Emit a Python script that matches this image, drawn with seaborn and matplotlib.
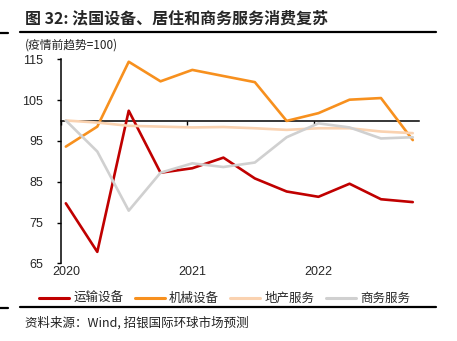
import matplotlib
matplotlib.use("Agg")
import matplotlib.pyplot as plt
from matplotlib.lines import Line2D
import seaborn as sns
import pandas as pd

quarters = ["2020-01-15", "2020-04-15", "2020-07-15", "2020-10-15",
            "2021-01-15", "2021-04-15", "2021-07-15", "2021-10-15",
            "2022-01-15", "2022-04-15", "2022-07-15", "2022-10-15"]
transport = [79.7, 67.8, 102.4, 87.2, 88.3, 90.9, 85.8, 82.6, 81.3, 84.5, 80.7, 80.0]
machinery = [93.6, 98.5, 114.4, 109.6, 112.4, 110.9, 109.4, 99.9, 101.8, 105.1, 105.5, 95.2]
realestate = [100.0, 99.5, 98.7, 98.5, 98.3, 98.4, 98.1, 97.7, 98.1, 98.1, 97.3, 96.9]
business = [100.0, 92.4, 77.9, 87.2, 89.5, 88.6, 89.7, 95.9, 99.3, 98.3, 95.6, 95.9]
series_names = ["运输设备", "机械设备", "地产服务", "商务服务"]
colors = ["#C00000", "#F7901E", "#FAD2B0", "#D0D0D0"]
year_labels = ["2020", "2021", "2022"]
year_ticks = ["2020-01-01", "2021-01-01", "2022-01-01"]
y_ticks = [65, 75, 85, 95, 105, 115]

sns.set_style("white")
plt.rcParams['font.family'] = ['Liberation Sans', 'Noto Sans CJK SC', 'DejaVu Sans']

dates = pd.to_datetime(quarters)
df = pd.concat([
    pd.DataFrame({"date": dates, "value": vals, "series": name})
    for name, vals in zip(series_names, [transport, machinery, realestate, business])
], ignore_index=True)

fig = plt.figure(figsize=(4.57, 3.41), dpi=100)
ax = fig.add_axes([61/457, (341-263.3)/341, 358/457, (263.3-59.3)/341])

sns.lineplot(data=df, x="date", y="value", hue="series", hue_order=series_names,
             palette=colors, linewidth=1.9, ax=ax, legend=True)

xmin = pd.Timestamp("2020-01-01")
xmax = pd.Timestamp("2022-11-02")
ax.set_xlim(xmin, xmax)
ax.set_ylim(65, 115)
ax.set_yticks(y_ticks)
ax.set_yticklabels([str(v) for v in y_ticks], fontsize=9)
ax.set_xticks([dates[0], dates[4], dates[8]])
ax.set_xticklabels(year_labels, fontsize=9)
ax.tick_params(axis='x', length=0, pad=2)
ax.tick_params(axis='y', length=3, width=1, direction='out', color='black', pad=10, left=True)
ax.set_xlabel("")
ax.set_ylabel("")
for s in ["top", "right", "bottom"]:
    ax.spines[s].set_visible(False)
ax.spines["left"].set_color("black")
ax.spines["left"].set_linewidth(1.1)

# axis line crossing at 100 with year ticks
ax2 = ax.twiny()
ax2.set_xlim(ax.get_xlim())
ax2.xaxis.set_ticks_position('bottom')
ax2.spines['bottom'].set_position(('data', 100))
ax2.spines['bottom'].set_color('black')
ax2.spines['bottom'].set_linewidth(1.1)
for s in ["top", "right", "left"]:
    ax2.spines[s].set_visible(False)
ax2.set_xticks(pd.to_datetime(year_ticks))
ax2.tick_params(axis='x', length=3, width=1, direction='out', color='black', labelbottom=False, labeltop=False)
ax2.set_zorder(ax.get_zorder() - 1)
ax.patch.set_visible(False)

handles, labels = ax.get_legend_handles_labels()
for h in handles:
    h.set_linewidth(2.2)
ax.legend(handles, labels, loc="upper center", bbox_to_anchor=(0.457, -0.085), ncol=4,
          frameon=False, handlelength=2.4, handletextpad=0.35, columnspacing=0.9,
          prop={'family': ['Noto Sans CJK SC'], 'size': 9})

fig.text(25/457, 1 - 18/341, "图 32: 法国设备、居住和商务服务消费复苏", fontsize=11.5,
         fontweight='bold', family=['Noto Sans CJK SC'], va='center', ha='left')
fig.text(25/457, 1 - 45/341, "(疫情前趋势=100)", fontsize=8.5,
         family=['Noto Sans CJK SC'], va='center', ha='left', color='#222222')
fig.text(25/457, 1 - 323/341, "资料来源：Wind, 招银国际环球市场预测", fontsize=9,
         family=['Noto Sans CJK SC', 'Liberation Sans'], va='center', ha='left', color='#222222')

for yy in [32, 307]:
    fig.add_artist(Line2D([20/457, 436/457], [1 - yy/341, 1 - yy/341], color='black', linewidth=1.6,
                          transform=fig.transFigure))
    fig.add_artist(Line2D([0, 8/457], [1 - (yy+1)/341, 1 - (yy+1)/341], color='black', linewidth=1.6,
                          transform=fig.transFigure))

fig.savefig("out.png", dpi=100)
